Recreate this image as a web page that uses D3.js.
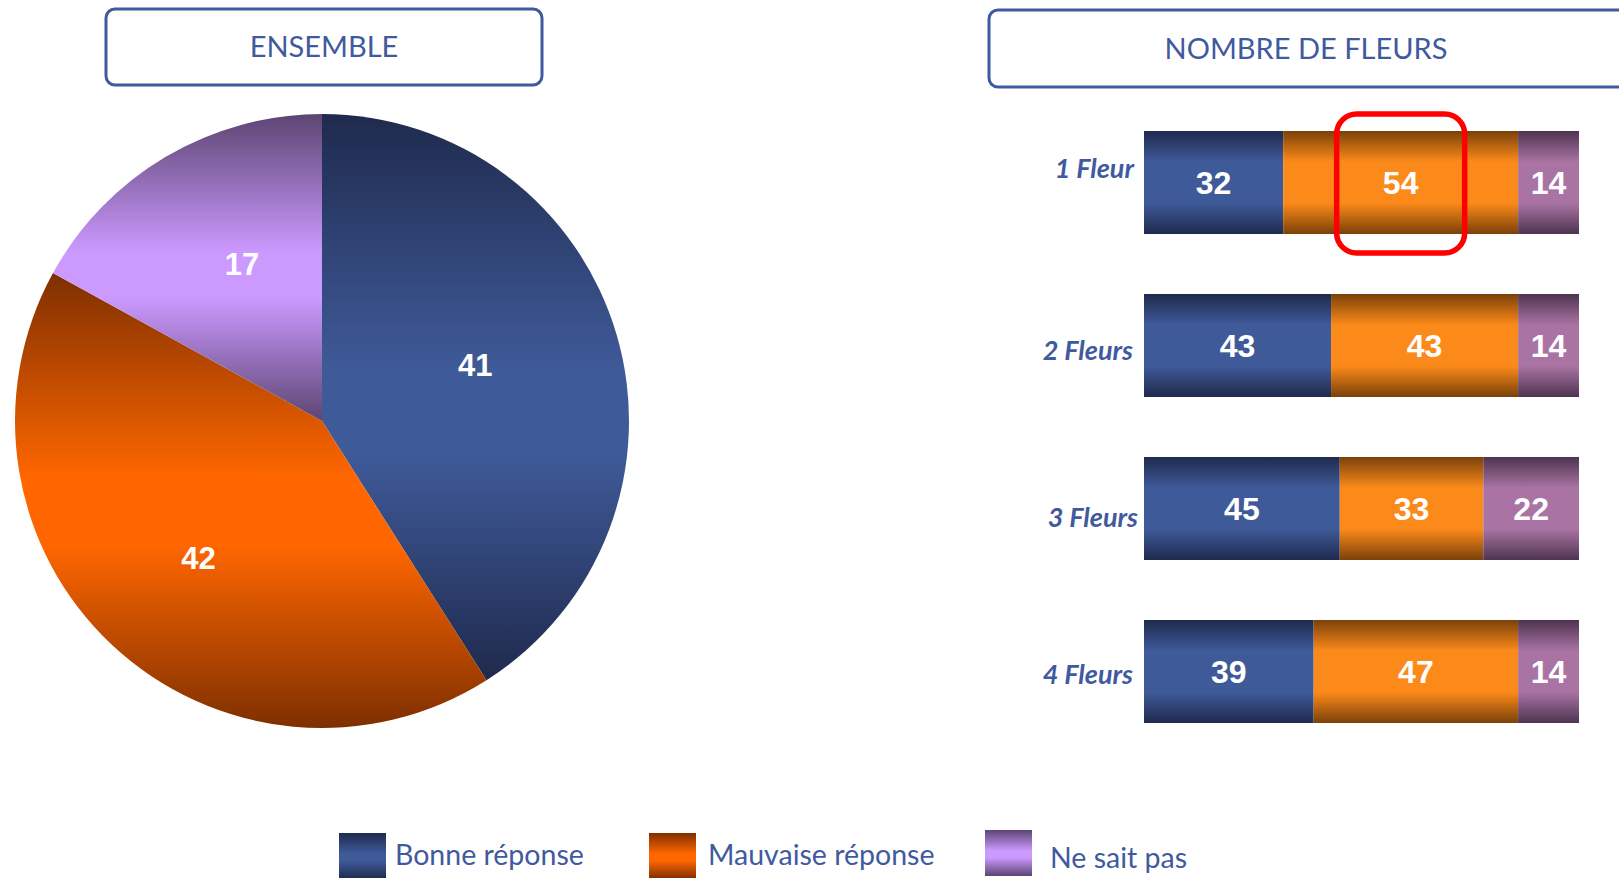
<!DOCTYPE html>
<html>
<head>
<meta charset="utf-8" />
<title>Ensemble / Nombre de fleurs</title>
<style>
body {
	margin: 0;
	padding: 0;
	background-color: #fff;
}
svg {
	display: block;
}
.title {
	font: 29px Lato, sans-serif;
	fill: #3F5A9E;
}
.cat {
	font: italic bold 27px Lato, sans-serif;
	fill: #3F5A9E;
}
.val {
	font: bold 32px "Liberation Sans", Arial, sans-serif;
	fill: #fff;
}
.leg {
	font: 28.5px Lato, sans-serif;
	fill: #3F5A9E;
}
</style>
</head>
<body>
<svg></svg>
<script src="https://d3js.org/d3.v7.min.js"></script>
<script>

/***********
Data
************/
var categories = ["Bonne réponse", "Mauvaise réponse", "Ne sait pas"];
var ensemble = [41, 42, 17];

var groups = ["1 Fleur", "2 Fleurs", "3 Fleurs", "4 Fleurs"];
var bonne = [32, 43, 45, 39];
var mauvaise = [54, 43, 33, 47];
var nsp = [14, 14, 22, 14];

// the value circled in red : group index, serie index
var highlight = [0, 1];

/***********
Colors : [dark, light]
************/
var pieColors = [
	["#1F2A4D", "#3F5A99"],
	["#7E2F00", "#FF6600"],
	["#5C4572", "#CC99FF"]
];
var barColors = [
	["#1F2A4D", "#3F5A99"],
	["#7A4109", "#FC8A1A"],
	["#4E3450", "#A973A3"]
];

var w = 1619;
var h = 878;

var svg = d3.select("svg")
	.attr("width", w)
	.attr("height", h);

var defs = svg.append("defs");

// vertical gradient dark -> light -> dark
function makeGradient(id, c, a, b) {
	var g = defs.append("linearGradient")
		.attr("id", id)
		.attr("x1", 0).attr("y1", 0)
		.attr("x2", 0).attr("y2", 1);
	[[0, c[0]], [a, c[1]], [b, c[1]], [1, c[0]]].forEach(function(s) {
		g.append("stop").attr("offset", s[0]).attr("stop-color", s[1]);
	});
}
pieColors.forEach(function(c, i) { makeGradient("pie" + i, c, 0.45, 0.6); });
barColors.forEach(function(c, i) { makeGradient("bar" + i, c, 0.3, 0.7); });

/***********
Title boxes
************/
function titleBox(x, y, bw, bh, label, tx) {
	svg.append("rect")
		.attr("x", x).attr("y", y)
		.attr("width", bw).attr("height", bh)
		.attr("rx", 9)
		.style("fill", "none")
		.style("stroke", "#3F5A9E")
		.style("stroke-width", 3);
	svg.append("text")
		.attr("class", "title")
		.attr("x", tx)
		.attr("y", y + bh / 2)
		.attr("dy", "0.35em")
		.attr("text-anchor", "middle")
		.text(label);
}
titleBox(106, 9, 436, 76, "ENSEMBLE", 324);
titleBox(989, 10, 660, 77, "NOMBRE DE FLEURS", 1306);

/***********
Pie
************/
var radius = 307;
var pieG = svg.append("g")
	.attr("transform", "translate(322,421)");

var arcs = d3.pie().sort(null).value(function(d) { return d; })(ensemble);
var arc = d3.arc().innerRadius(0).outerRadius(radius);
var labelArc = d3.arc().innerRadius(radius * 0.55).outerRadius(radius * 0.55);
// small nudges so the labels sit where the original put them
var labelNudge = [[-9, -9], [-8, 14], [6, -12]];

pieG.selectAll("path")
	.data(arcs)
	.enter().append("path")
		.attr("d", arc)
		.style("fill", function(d, i) { return "url(#pie" + i + ")"; });

pieG.selectAll("text")
	.data(arcs)
	.enter().append("text")
		.attr("class", "val")
		.style("font-size", "31px")
		.attr("transform", function(d, i) {
			var c = labelArc.centroid(d);
			return "translate(" + (c[0] + labelNudge[i][0]) + "," + (c[1] + labelNudge[i][1]) + ")";
		})
		.attr("text-anchor", "middle")
		.attr("dy", "0.35em")
		.text(function(d) { return d.data; });

/***********
Stacked bars
************/
var x = d3.scaleLinear().domain([0, 100]).range([1144, 1579]);
var y = d3.scaleBand().domain(groups).range([131, 723]).paddingInner(0.368);

var series = [bonne, mauvaise, nsp];
var rows = groups.map(function(g, gi) {
	var start = 0;
	return series.map(function(s, si) {
		var seg = { group: g, gi: gi, serie: si, v: s[gi], x0: start, x1: start + s[gi] };
		start += s[gi];
		return seg;
	});
});
var segs = d3.merge(rows);

var barG = svg.append("g");
barG.selectAll("rect")
	.data(segs)
	.enter().append("rect")
		.attr("x", function(d) { return x(d.x0); })
		.attr("y", function(d) { return y(d.group); })
		.attr("width", function(d) { return x(d.x1) - x(d.x0); })
		.attr("height", y.bandwidth())
		.style("fill", function(d) { return "url(#bar" + d.serie + ")"; });

barG.selectAll("text.val")
	.data(segs)
	.enter().append("text")
		.attr("class", "val")
		.attr("x", function(d) { return (x(d.x0) + x(d.x1)) / 2; })
		.attr("y", function(d) { return y(d.group) + y.bandwidth() / 2; })
		.attr("dy", "0.36em")
		.attr("text-anchor", "middle")
		.text(function(d) { return d.v; });

// category labels (hand placed text boxes in the original, slightly off centre)
var labelShift = [-13, 6, 10, 4];
var labelRight = [1134, 1133, 1138, 1133];
barG.selectAll("text.cat")
	.data(groups)
	.enter().append("text")
		.attr("class", "cat")
		.attr("x", function(d, i) { return labelRight[i]; })
		.attr("y", function(d, i) { return y(d) + y.bandwidth() / 2 + labelShift[i]; })
		.attr("dy", "0.3em")
		.attr("text-anchor", "end")
		.text(function(d) { return d; });

// red highlight around one value
var hs = rows[highlight[0]][highlight[1]];
var hx = (x(hs.x0) + x(hs.x1)) / 2;
svg.append("rect")
	.attr("x", hx - 64)
	.attr("y", y(hs.group) - 17)
	.attr("width", 128)
	.attr("height", y.bandwidth() + 36)
	.attr("rx", 20)
	.style("fill", "none")
	.style("stroke", "#FF0000")
	.style("stroke-width", 5.5);

/***********
Legend
************/
var legX = [339, 649, 985];
var legTextX = [56, 59, 65];
var leg = svg.selectAll("g.leg")
	.data(categories)
	.enter().append("g")
		.attr("class", "leg")
		.attr("transform", function(d, i) { return "translate(" + legX[i] + ",0)"; });
leg.append("rect")
	.attr("x", 0)
	.attr("y", function(d, i) { return i == 2 ? 830 : 833; })
	.attr("width", 47)
	.attr("height", 46)
	.style("fill", function(d, i) { return "url(#pie" + i + ")"; });
leg.append("text")
	.attr("class", "leg")
	.attr("x", function(d, i) { return legTextX[i]; })
	.attr("y", function(d, i) { return i == 2 ? 868 : 865; })
	.text(function(d) { return d; });

</script>
</body>
</html>
